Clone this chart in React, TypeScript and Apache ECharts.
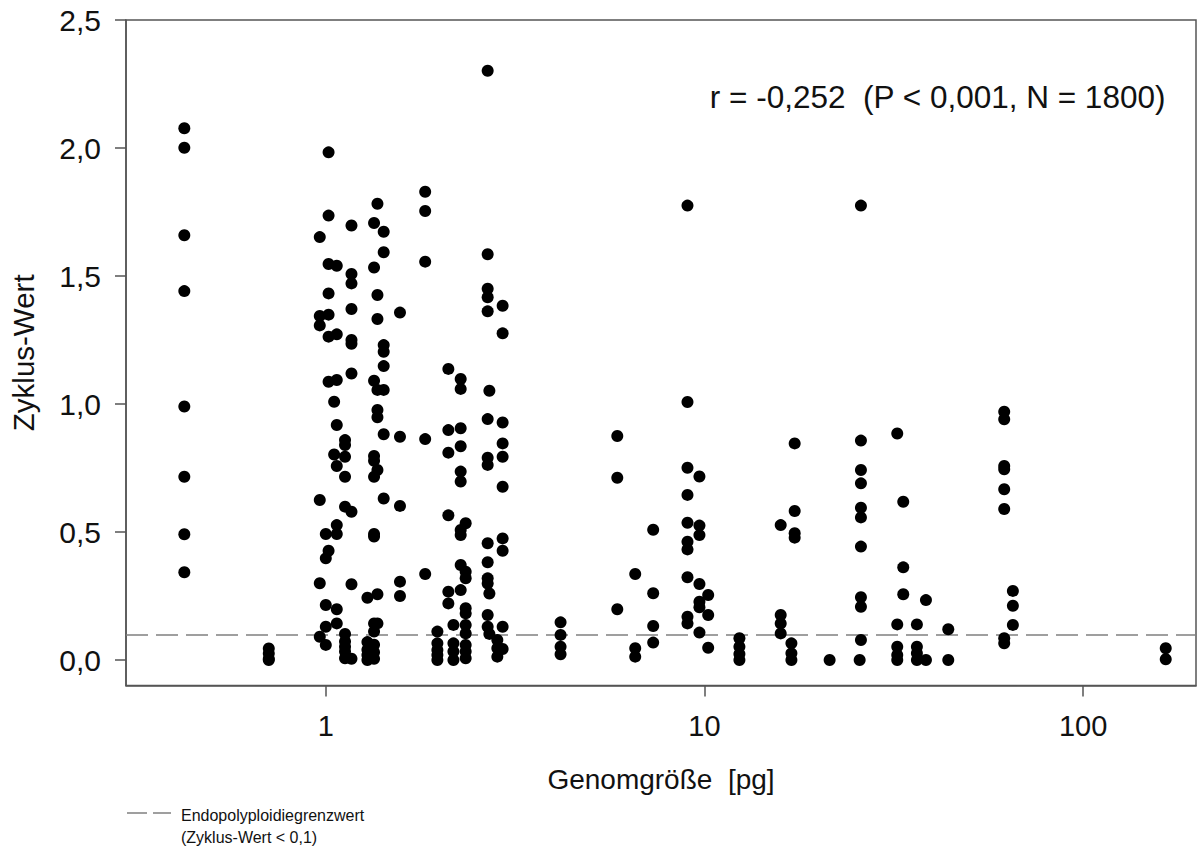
import React, { useEffect, useRef } from "react";
import * as echarts from "echarts";

// Genome size [pg] vs. cycle value
const smallGenomes: [number, number][] = [
  [0.423, 2.077], [0.423, 2.001], [0.423, 1.659], [0.423, 1.441], [0.423, 0.99], [0.423, 0.716], [0.423, 0.491], [0.423, 0.343],
  [0.707, 0.045], [0.707, 0.025], [0.707, 0.005], [0.707, 0.0],
];

const genomesNear1: [number, number][] = [
  [0.964, 1.652], [0.964, 1.344], [0.964, 1.307], [0.964, 0.625], [0.964, 0.3], [0.964, 0.091],
  [1.0, 0.492], [1.0, 0.397], [1.0, 0.215], [1.0, 0.13], [1.0, 0.059],
  [1.017, 1.983], [1.017, 1.736], [1.017, 1.547], [1.017, 1.432], [1.017, 1.349], [1.017, 1.263], [1.017, 1.087], [1.017, 0.427],
  [1.052, 1.009], [1.052, 0.803],
  [1.069, 1.54], [1.069, 1.272], [1.069, 1.094], [1.069, 0.918], [1.069, 0.758], [1.069, 0.527], [1.069, 0.492], [1.069, 0.198], [1.069, 0.143],
  [1.124, 0.859], [1.124, 0.84], [1.124, 0.794], [1.124, 0.716], [1.124, 0.599], [1.124, 0.102], [1.124, 0.072], [1.124, 0.052], [1.124, 0.033], [1.124, 0.007],
  [1.169, 1.697], [1.169, 1.508], [1.169, 1.471], [1.169, 1.371], [1.169, 1.25], [1.169, 1.235], [1.169, 1.119], [1.169, 0.579], [1.169, 0.296], [1.169, 0.005],
  [1.288, 0.243], [1.288, 0.07], [1.288, 0.04], [1.288, 0.02], [1.288, 0.0],
  [1.341, 1.707], [1.341, 1.533], [1.341, 1.091], [1.341, 0.797], [1.341, 0.778], [1.341, 0.716], [1.341, 0.492], [1.341, 0.482], [1.341, 0.143], [1.341, 0.111], [1.341, 0.06], [1.341, 0.03], [1.341, 0.005],
  [1.369, 1.782], [1.369, 1.426], [1.369, 1.332], [1.369, 1.055], [1.369, 0.977], [1.369, 0.948], [1.369, 0.742], [1.369, 0.257], [1.369, 0.143],
  [1.422, 1.673], [1.422, 1.593], [1.422, 1.23], [1.422, 1.204], [1.422, 1.148], [1.422, 1.055], [1.422, 0.882], [1.422, 0.631],
  [1.57, 1.357], [1.57, 0.872], [1.57, 0.602], [1.57, 0.306], [1.57, 0.25],
];

const genomes2to3: [number, number][] = [
  [1.83, 1.829], [1.83, 1.754], [1.83, 1.556], [1.83, 0.863], [1.83, 0.336],
  [1.971, 0.111], [1.971, 0.065], [1.971, 0.039], [1.971, 0.02], [1.971, 0.0],
  [2.107, 1.137], [2.107, 0.898], [2.107, 0.81], [2.107, 0.565], [2.107, 0.267], [2.107, 0.221],
  [2.173, 0.137], [2.173, 0.065], [2.173, 0.033], [2.173, 0.0],
  [2.271, 1.098], [2.271, 1.059], [2.271, 0.905], [2.271, 0.835], [2.271, 0.736], [2.271, 0.697], [2.271, 0.508], [2.271, 0.488], [2.271, 0.371], [2.271, 0.273],
  [2.341, 0.534], [2.341, 0.345], [2.341, 0.319], [2.341, 0.202], [2.341, 0.182], [2.341, 0.137], [2.341, 0.104], [2.341, 0.059], [2.341, 0.033], [2.341, 0.007],
  [2.676, 2.302], [2.676, 1.585], [2.676, 1.45], [2.676, 1.417], [2.676, 1.362], [2.704, 1.052], [2.676, 0.941], [2.676, 0.79], [2.676, 0.762], [2.676, 0.456],
  [2.676, 0.382], [2.676, 0.319], [2.676, 0.299], [2.704, 0.26], [2.676, 0.176], [2.676, 0.13], [2.704, 0.102],
  [2.838, 0.078], [2.838, 0.046], [2.838, 0.013],
  [2.931, 1.384], [2.931, 1.276], [2.931, 0.928], [2.931, 0.846], [2.931, 0.794], [2.931, 0.677], [2.931, 0.475], [2.931, 0.427], [2.931, 0.13], [2.931, 0.043],
];

const genomes4to20: [number, number][] = [
  [4.169, 0.147], [4.169, 0.098], [4.169, 0.052], [4.169, 0.022],
  [5.886, 0.875], [5.886, 0.712], [5.886, 0.198],
  [6.564, 0.336], [6.564, 0.046], [6.564, 0.013],
  [7.322, 0.509], [7.322, 0.261], [7.322, 0.133], [7.322, 0.068],
  [9.02, 1.775], [9.02, 1.008], [9.02, 0.751], [9.02, 0.645], [9.02, 0.536], [9.02, 0.462], [9.02, 0.432], [9.02, 0.323], [9.02, 0.169], [9.02, 0.143],
  [9.7, 0.717], [9.7, 0.525], [9.7, 0.488], [9.7, 0.297], [9.7, 0.228], [9.7, 0.206], [9.7, 0.107],
  [10.23, 0.254], [10.23, 0.176], [10.23, 0.048],
  [12.37, 0.085], [12.37, 0.052], [12.37, 0.023], [12.37, 0.0],
  [15.9, 0.527], [15.9, 0.176], [15.9, 0.143], [15.9, 0.104],
  [16.97, 0.065], [16.97, 0.026], [16.97, 0.0],
  [17.31, 0.846], [17.31, 0.582], [17.31, 0.495], [17.31, 0.478],
];

const largeGenomes: [number, number][] = [
  [21.41, 0.0],
  [25.9, 1.775], [25.9, 0.857], [25.9, 0.742], [25.9, 0.69], [25.9, 0.595], [25.9, 0.557], [25.9, 0.443], [25.9, 0.245], [25.9, 0.208], [25.9, 0.078], [25.7, 0.0],
  [32.3, 0.885], [32.3, 0.139], [32.3, 0.052], [32.3, 0.02], [32.3, 0.0],
  [33.5, 0.618], [33.5, 0.362], [33.5, 0.257],
  [36.4, 0.139], [36.4, 0.052], [36.4, 0.026], [36.4, 0.0],
  [38.46, 0.234], [38.46, 0.0],
  [44.05, 0.12], [44.05, 0.0],
  [61.9, 0.97], [61.9, 0.94], [61.9, 0.758], [61.9, 0.745], [61.9, 0.667], [61.9, 0.59], [61.9, 0.085], [61.9, 0.065],
  [65.25, 0.27], [65.25, 0.212], [65.25, 0.137],
  [165.3, 0.046], [165.3, 0.003],
];

const xTickValues = [1, 10, 100];
const yTickValues = [0, 0.5, 1, 1.5, 2, 2.5];
const thresholdValue = 0.1;
const annotationText = "r = -0,252  (P < 0,001, N = 1800)";
const xAxisTitle = "Genomgröße  [pg]";
const yAxisTitle = "Zyklus-Wert";
const legendLine1 = "Endopolyploidiegrenzwert";
const legendLine2 = "(Zyklus-Wert < 0,1)";

const FONT = "'Liberation Sans', Arial, Helvetica, sans-serif";
const AXIS_COLOR = "#555";

export default function App() {
  const ref = useRef<HTMLDivElement>(null);

  useEffect(() => {
    if (!ref.current) return;
    const chart = echarts.init(ref.current, undefined, { renderer: "svg" });

    const groups = [smallGenomes, genomesNear1, genomes2to3, genomes4to20, largeGenomes];
    const series: any[] = groups.map((data, i) => ({
      type: "scatter",
      data,
      symbol: "circle",
      symbolSize: 12,
      itemStyle: { color: "#000", opacity: 1 },
      silent: true,
      z: 3,
      ...(i === 0
        ? {
            markLine: {
              silent: true,
              symbol: ["none", "none"],
              label: { show: false },
              lineStyle: { color: "#808080", width: 1.5, type: [22, 8] },
              data: [{ yAxis: thresholdValue }],
              z: 1,
            },
          }
        : {}),
    }));

    chart.setOption({
      animation: false,
      backgroundColor: "#fff",
      textStyle: { fontFamily: FONT },
      grid: {
        left: 125,
        top: 20,
        width: 1071,
        height: 665.6,
        show: true,
        borderColor: AXIS_COLOR,
        borderWidth: 1.5,
        backgroundColor: "transparent",
      },
      xAxis: {
        type: "log",
        logBase: 10,
        min: 0.2967,
        max: 198.7,
        name: xAxisTitle,
        nameLocation: "middle",
        nameGap: 80,
        nameTextStyle: { fontSize: 28, color: "#111", fontFamily: FONT },
        axisLine: { show: true, onZero: false, lineStyle: { color: AXIS_COLOR, width: 1.5 } },
        axisTick: { show: true, inside: false, length: 11, customValues: xTickValues, lineStyle: { color: AXIS_COLOR, width: 1.5 } },
        axisLabel: {
          customValues: xTickValues,
          margin: 26,
          fontSize: 29,
          color: "#111",
          fontFamily: FONT,
          formatter: (v: number) => String(Math.round(v)),
        },
        splitLine: { show: false },
        minorTick: { show: false },
      },
      yAxis: {
        type: "value",
        min: -0.1,
        max: 2.5,
        name: yAxisTitle,
        nameLocation: "middle",
        nameRotate: 90,
        nameGap: 88,
        nameTextStyle: { fontSize: 29.5, color: "#111", fontFamily: FONT },
        axisLine: { show: true, onZero: false, lineStyle: { color: AXIS_COLOR, width: 1.5 } },
        axisTick: { show: true, inside: false, length: 11, customValues: yTickValues, lineStyle: { color: AXIS_COLOR, width: 1.5 } },
        axisLabel: {
          customValues: yTickValues,
          margin: 25,
          fontSize: 30,
          color: "#111",
          fontFamily: FONT,
          formatter: (v: number) => v.toFixed(1).replace(".", ","),
        },
        splitLine: { show: false },
      },
      graphic: [
        {
          type: "text",
          right: 1199 - 1166,
          top: 81,
          style: { text: annotationText, fontSize: 31.5, fill: "#111", fontFamily: FONT },
          silent: true,
        },
        {
          type: "line",
          shape: { x1: 127, y1: 813, x2: 171, y2: 813 },
          style: { stroke: "#808080", lineWidth: 1.5, lineDash: [20, 6] },
          silent: true,
        },
        {
          type: "text",
          x: 181,
          y: 815,
          style: { text: legendLine1, fontSize: 16, fill: "#111", fontFamily: FONT, verticalAlign: "middle" },
          silent: true,
        },
        {
          type: "text",
          x: 181,
          y: 837,
          style: { text: legendLine2, fontSize: 16, fill: "#111", fontFamily: FONT, verticalAlign: "middle" },
          silent: true,
        },
      ],
      series,
    });

    return () => chart.dispose();
  }, []);

  return (
    <div
      ref={ref}
      style={{ position: "absolute", left: 0, top: 0, width: 1199, height: 853, background: "#fff" }}
    />
  );
}
